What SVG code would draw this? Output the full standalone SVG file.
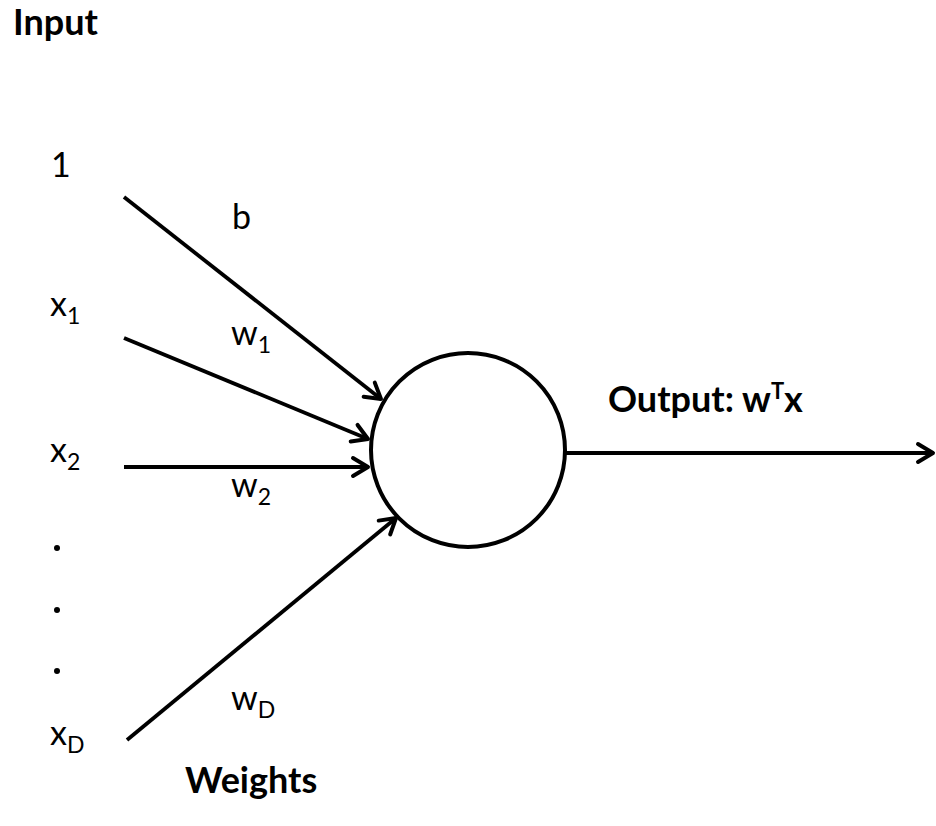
<svg xmlns="http://www.w3.org/2000/svg" width="936" height="826" viewBox="0 0 936 826">
  <defs>
    <marker id="arrow" markerUnits="userSpaceOnUse" markerWidth="30" markerHeight="30" viewBox="-20 -15 30 30" refX="0" refY="0" orient="auto">
      <path d="M-15,-9 L0,0 L-15,9" fill="none" stroke="#000" stroke-width="4" stroke-linecap="round" stroke-linejoin="round"/>
    </marker>
  </defs>
  <style>
    text { font-family: Lato, "Open Sans", "Liberation Sans", sans-serif; fill: #000; }
    .bold { font-weight: bold; font-size: 36px; }
    .reg { font-size: 34px; }
    .sub { font-size: 23px; }
    .edge { stroke: #000; stroke-width: 3.8; fill: none; marker-end: url(#arrow); }
  </style>
  <rect width="936" height="826" fill="#fff"/>

  <g id="title-input"><text class="bold" x="13" y="35">Input</text></g>
  <g id="title-weights"><text class="bold" x="185" y="793">Weights</text></g>

  <g id="input-1"><text class="reg" x="51" y="177">1</text></g>
  <g id="input-x1"><text class="reg" x="50" y="316">x<tspan class="sub" dy="8">1</tspan></text></g>
  <g id="input-x2"><text class="reg" x="50" y="462">x<tspan class="sub" dy="8">2</tspan></text></g>
  <g id="dots">
    <circle cx="57" cy="548" r="3" fill="#000"/>
    <circle cx="57" cy="610" r="3" fill="#000"/>
    <circle cx="57" cy="671" r="3" fill="#000"/>
  </g>
  <g id="input-xD"><text class="reg" x="50" y="745">x<tspan class="sub" dy="8">D</tspan></text></g>

  <g id="label-b"><text class="reg" x="232" y="229">b</text></g>
  <g id="label-w1"><text class="reg" x="231" y="345">w<tspan class="sub" dy="8">1</tspan></text></g>
  <g id="label-w2"><text class="reg" x="231" y="497">w<tspan class="sub" dy="8">2</tspan></text></g>
  <g id="label-wD"><text class="reg" x="231" y="710">w<tspan class="sub" dy="8">D</tspan></text></g>

  <g id="neuron">
    <circle cx="468" cy="450" r="97" fill="#fff" stroke="#000" stroke-width="4"/>
  </g>

  <g id="output-label"><text class="bold" x="608" y="412">Output: w<tspan font-size="22" dy="-13">T</tspan><tspan dy="13">x</tspan></text></g>

  <g id="connectors">
    <line class="edge" x1="124" y1="197" x2="381" y2="399"/>
    <line class="edge" x1="124" y1="338" x2="368" y2="439"/>
    <line class="edge" x1="124" y1="467" x2="368" y2="467"/>
    <line class="edge" x1="127" y1="740" x2="396" y2="518"/>
    <line class="edge" x1="566" y1="453" x2="933" y2="453"/>
  </g>
</svg>
